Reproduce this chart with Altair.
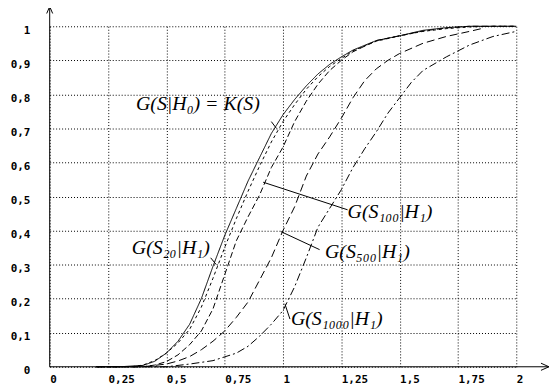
import altair as alt
import pandas as pd

# ---- data ----
k_s = [0.2, 0.3, 0.4, 0.45, 0.5, 0.55, 0.6, 0.65, 0.7, 0.75, 0.8, 0.85, 0.9, 0.95, 1.0, 1.05, 1.1, 1.15, 1.2, 1.25, 1.3, 1.4, 1.5, 1.6, 1.7, 1.8, 2.0]
k_g = [0, 0, 0.004, 0.016, 0.04, 0.075, 0.125, 0.2, 0.295, 0.385, 0.465, 0.545, 0.615, 0.685, 0.74, 0.785, 0.825, 0.86, 0.888, 0.91, 0.93, 0.958, 0.972, 0.988, 0.996, 1.0, 1.0]

s20_s = [0.2, 0.35, 0.4, 0.45, 0.5, 0.55, 0.6, 0.65, 0.7, 0.75, 0.8, 0.85, 0.9, 0.95, 1.0, 1.05, 1.1, 1.15, 1.2, 1.3, 1.4, 1.5, 1.6, 1.7, 1.8, 1.9, 2.0]
s20_g = [0, 0, 0.005, 0.018, 0.04, 0.07, 0.11, 0.175, 0.26, 0.35, 0.435, 0.515, 0.59, 0.66, 0.72, 0.77, 0.815, 0.852, 0.882, 0.928, 0.956, 0.972, 0.985, 0.993, 0.998, 1.0, 1.0]

s100_s = [0.2, 0.4, 0.45, 0.5, 0.55, 0.6, 0.65, 0.7, 0.75, 0.8, 0.85, 0.9, 0.95, 1.0, 1.05, 1.1, 1.15, 1.2, 1.25, 1.3, 1.4, 1.5, 1.6, 1.7, 1.8, 2.0]
s100_g = [0, 0, 0.005, 0.015, 0.035, 0.065, 0.105, 0.17, 0.27, 0.37, 0.44, 0.505, 0.585, 0.645, 0.72, 0.78, 0.83, 0.87, 0.9, 0.925, 0.958, 0.972, 0.986, 0.995, 1.0, 1.0]

s500_s = [0.2, 0.4, 0.5, 0.55, 0.6, 0.65, 0.7, 0.75, 0.8, 0.85, 0.9, 0.95, 1.0, 1.05, 1.1, 1.15, 1.2, 1.25, 1.3, 1.35, 1.4, 1.45, 1.5, 1.6, 1.7, 1.8, 1.85]
s500_g = [0, 0, 0.008, 0.017, 0.03, 0.05, 0.075, 0.105, 0.145, 0.19, 0.255, 0.32, 0.4, 0.47, 0.56, 0.625, 0.675, 0.73, 0.79, 0.84, 0.875, 0.9, 0.92, 0.95, 0.97, 0.985, 0.993]

s1000_s = [0.2, 0.5, 0.6, 0.7, 0.8, 0.85, 0.9, 0.95, 1.0, 1.05, 1.1, 1.15, 1.2, 1.25, 1.3, 1.35, 1.4, 1.45, 1.5, 1.55, 1.6, 1.7, 1.8, 1.9, 2.0]
s1000_g = [0, 0, 0.008, 0.018, 0.04, 0.06, 0.09, 0.125, 0.165, 0.235, 0.32, 0.41, 0.465, 0.52, 0.585, 0.64, 0.69, 0.745, 0.79, 0.835, 0.87, 0.91, 0.945, 0.97, 0.985]

series_names = ["K", "S20", "S100", "S500", "S1000"]
series_dash = [[1, 0], [3, 3], [6, 3], [8, 4], [8, 3, 2, 3]]

x_ticks = [0, 0.25, 0.5, 0.75, 1, 1.25, 1.5, 1.75, 2]
y_ticks = [0, 0.1, 0.2, 0.3, 0.4, 0.5, 0.6, 0.7, 0.8, 0.9, 1]

label_text = ["G(S|H₀) = K(S)", "G(S₂₀|H₁)", "G(S₁₀₀|H₁)", "G(S₅₀₀|H₁)", "G(S₁₀₀₀|H₁)"]
label_x = [0.37, 0.352, 1.277, 1.18, 1.034]
label_y = [0.773, 0.35, 0.455, 0.338, 0.14]

ptr_x = [0.95, 0.69, 0.915, 0.991, 1.008]
ptr_y = [0.72, 0.32, 0.542, 0.397, 0.185]
ptr_x2 = [0.972, 0.714, 1.277, 1.157, 1.03]
ptr_y2 = [0.70, 0.30, 0.461, 0.344, 0.14]

# ---- build tables ----
rows = []
for name, ss, gs in [("K", k_s, k_g), ("S20", s20_s, s20_g), ("S100", s100_s, s100_g),
                     ("S500", s500_s, s500_g), ("S1000", s1000_s, s1000_g)]:
    for s, g in zip(ss, gs):
        rows.append({"series": name, "S": s, "G": g})
curves = pd.DataFrame(rows)
labels = pd.DataFrame({"S": label_x, "G": label_y, "t": label_text})
ptrs = pd.DataFrame({"S": ptr_x, "G": ptr_y, "S2": ptr_x2, "G2": ptr_y2})
axes_df = pd.DataFrame({"S": [0, 0], "G": [0, 0], "S2": [0, 2.14], "G2": [1.058, 0]})
arrows = pd.DataFrame({"S": [0, 2.14], "G": [1.058, 0], "dir": ["up", "right"]})

xscale = alt.Scale(domain=[0, 2], nice=False, zero=False)
yscale = alt.Scale(domain=[0, 1], nice=False, zero=False)

lab_font = "DejaVu Sans Mono"

xaxis = alt.Axis(values=x_ticks, grid=True, gridDash=[1, 2], gridColor="black", gridOpacity=1,
                 domain=False, ticks=False, tickSize=0, labelAlign="left", labelBaseline="top",
                 labelPadding=7, labelFont=lab_font, labelFontWeight="bold", labelFontSize=11,
                 labelColor="black", labelExpr="replace(toString(datum.value), '.', ',')",
                 title=None, labelOverlap=False)
yaxis = alt.Axis(values=y_ticks, grid=True, gridDash=[1, 2], gridColor="black", gridOpacity=1,
                 domain=False, ticks=False, tickSize=0, labelAlign="right", labelPadding=20,
                 labelOffset=4, labelFont=lab_font, labelFontWeight="bold", labelFontSize=11,
                 labelColor="black", labelExpr="replace(toString(datum.value), '.', ',')",
                 title=None, labelOverlap=False)

X = alt.X("S:Q", scale=xscale, axis=xaxis)
Y = alt.Y("G:Q", scale=yscale, axis=yaxis)

lines = alt.Chart(curves).mark_line(color="black", strokeWidth=1).encode(
    x=X, y=Y,
    strokeDash=alt.StrokeDash("series:N", scale=alt.Scale(domain=series_names, range=series_dash), legend=None),
    detail="series:N",
    order="S:Q",
)

axis_lines = alt.Chart(axes_df).mark_rule(color="black", strokeWidth=1).encode(
    x=X, y=Y, x2="S2:Q", y2="G2:Q")

arrow_marks = alt.Chart(arrows).mark_point(filled=False, color="black", strokeWidth=1, size=64, opacity=1).encode(
    x=X, y=Y,
    shape=alt.Shape("dir:N", scale=alt.Scale(domain=["up", "right"],
                    range=["M -0.75 1.75 L 0 0 L 0.75 1.75", "M -2 -0.9 L 0 0 L -2 0.9"]), legend=None))

pointer_lines = alt.Chart(ptrs).mark_rule(color="black", strokeWidth=1).encode(
    x=X, y=Y, x2="S2:Q", y2="G2:Q")

text_marks = alt.Chart(labels).mark_text(align="left", baseline="middle", font="Liberation Serif",
                                         fontStyle="italic", fontSize=20, color="black").encode(
    x=X, y=Y, text="t:N")

chart = alt.layer(lines, axis_lines, arrow_marks, pointer_lines, text_marks).properties(
    width=470, height=343,
    autosize=alt.AutoSizeParams(type="none"),
    padding={"left": 42, "top": 17, "right": 36, "bottom": 22},
    background="white",
).configure_view(stroke=None)

chart.save("out.html", embed_options={"renderer": "svg", "actions": False})
